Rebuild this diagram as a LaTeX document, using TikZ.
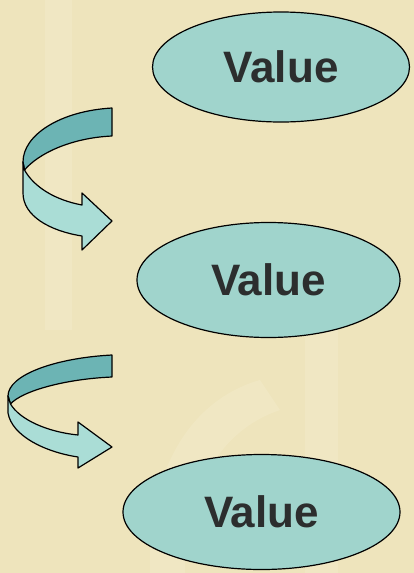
\documentclass[tikz,border=0pt]{standalone}
\usepackage{fontspec}
\setmainfont{Liberation Sans}
\usetikzlibrary{shapes.geometric}

\definecolor{paper}{RGB}{238,228,188}
\definecolor{paperlight}{RGB}{246,240,212}
\definecolor{ovalfill}{RGB}{160,212,204}
\definecolor{ribbonfront}{RGB}{170,221,214}
\definecolor{ribbonback}{RGB}{108,180,180}
\definecolor{ink}{RGB}{44,46,46}

\tikzset{
  valuebox/.style={ellipse, draw=black, line width=1.2pt, fill=ovalfill,
    inner sep=0pt, text=ink, font=\fontsize{44}{48}\selectfont\bfseries},
  ribbonedge/.style={draw=black, line width=1.2pt, line join=round},
  haze/.style={fill=paperlight, opacity=0.3}
}

\begin{document}
\begin{tikzpicture}[x=1pt, y=-1pt]
  % page and faint lighter patches of the paper
  \fill[paper] (0,0) rectangle (414,573);
  \useasboundingbox (0,0) rectangle (414,573);
  \fill[haze] (45,0) rectangle (72,330);
  \fill[haze] (305,270) rectangle (338,573);
  \fill[haze] (150,560) .. controls (150,470) and (190,400) .. (260,380)
     -- (280,410) .. controls (220,430) and (185,490) .. (185,573) -- (150,573) -- cycle;

  % the three values
  \node[valuebox, minimum width=257pt, minimum height=110pt] (v1) at (281,67) {Value};
  \node[valuebox, minimum width=263pt, minimum height=115pt] (v2) at (268.5,280) {Value};
  \node[valuebox, minimum width=277pt, minimum height=115pt] (v3) at (261.5,512) {Value};

  % first curled ribbon arrow
  \filldraw[ribbonedge, fill=ribbonback]
    (112,108) .. controls (60,111) and (23,135) .. (23,162)
    -- (24.5,170) .. controls (38,154) and (70,138) .. (112,136) -- cycle;
  \filldraw[ribbonedge, fill=ribbonfront]
    (24.5,170) -- (23,162) -- (23,193)
    .. controls (23,216) and (50,231) .. (82,236)
    -- (82,250) -- (112,221) -- (82,193) -- (82,205)
    .. controls (55,200) and (34,187) .. (24.5,170) -- cycle;

  % second curled ribbon arrow
  \filldraw[ribbonedge, fill=ribbonback]
    (112,355) .. controls (55,358) and (8,375) .. (8,396)
    -- (10.5,404) .. controls (22,391) and (65,379) .. (112,377) -- cycle;
  \filldraw[ribbonedge, fill=ribbonfront]
    (10.5,404) -- (8,396) -- (8,413)
    .. controls (12,436) and (45,452) .. (78,457)
    -- (78,468) -- (112,447) -- (78,422) -- (78,435)
    .. controls (48,432) and (20,420) .. (10.5,404) -- cycle;
\end{tikzpicture}
\end{document}
